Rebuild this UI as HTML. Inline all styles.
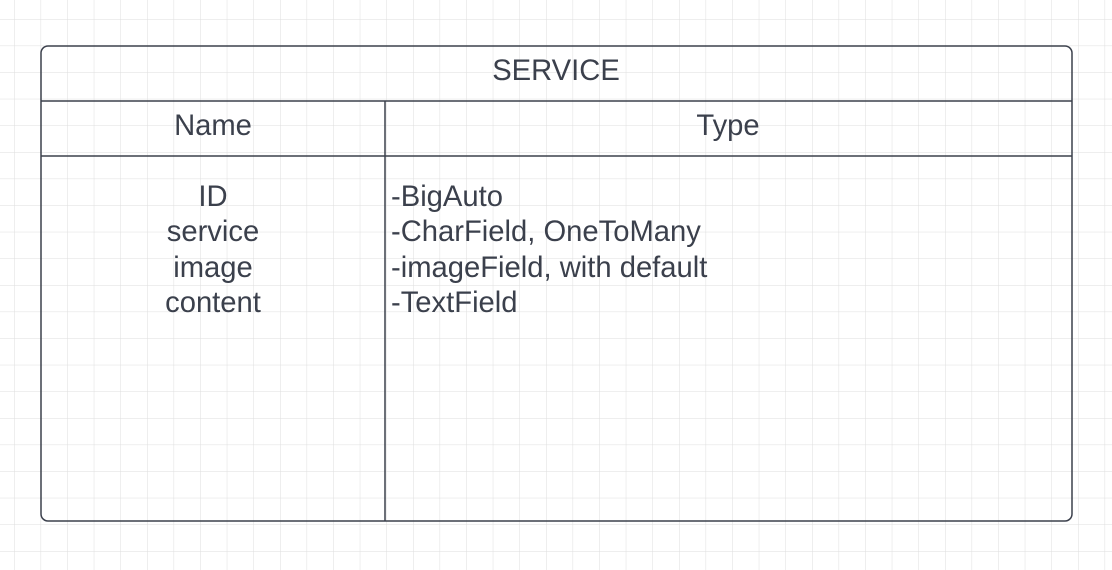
<!DOCTYPE html>
<html><head><style>
html,body{margin:0;padding:0;width:1112px;height:570px;overflow:hidden;background:#fff}
svg{position:absolute;left:0;top:0}
text{font-family:"Liberation Sans",sans-serif;fill:#3b404c}
</style></head><body>
<svg width="1112" height="570" xmlns="http://www.w3.org/2000/svg">
<defs>
<pattern id="g" x="14" y="19" width="26.6" height="26.6" patternUnits="userSpaceOnUse">
<path d="M0 0V26.6M0 0H26.6" stroke="#dedede" stroke-width="1" fill="none"/>
</pattern>
</defs>
<rect width="1112" height="570" fill="url(#g)"/>
<rect x="41" y="46" width="1031" height="475" rx="7" fill="none" stroke="#3b404c" stroke-width="1.5"/>
<line x1="41" y1="101" x2="1072" y2="101" stroke="#3b404c" stroke-width="1.5"/>
<line x1="41" y1="156" x2="1072" y2="156" stroke="#3b404c" stroke-width="1.5"/>
<line x1="385" y1="101" x2="385" y2="521" stroke="#3b404c" stroke-width="1.5"/>
<text x="556" y="80" font-size="29.2" text-anchor="middle">SERVICE</text>
<text x="213" y="135" font-size="29.2" text-anchor="middle">Name</text>
<text x="728" y="135" font-size="29.2" text-anchor="middle">Type</text>
<g font-size="29.2" text-anchor="middle">
<text x="213" y="206">ID</text>
<text x="213" y="241">service</text>
<text x="213" y="277">image</text>
<text x="213" y="312">content</text>
</g>
<g font-size="29.2">
<text x="391" y="206">-BigAuto</text>
<text x="391" y="241">-CharField, OneToMany</text>
<text x="391" y="277">-imageField, with default</text>
<text x="391" y="312">-TextField</text>
</g>
</svg>
</body></html>
